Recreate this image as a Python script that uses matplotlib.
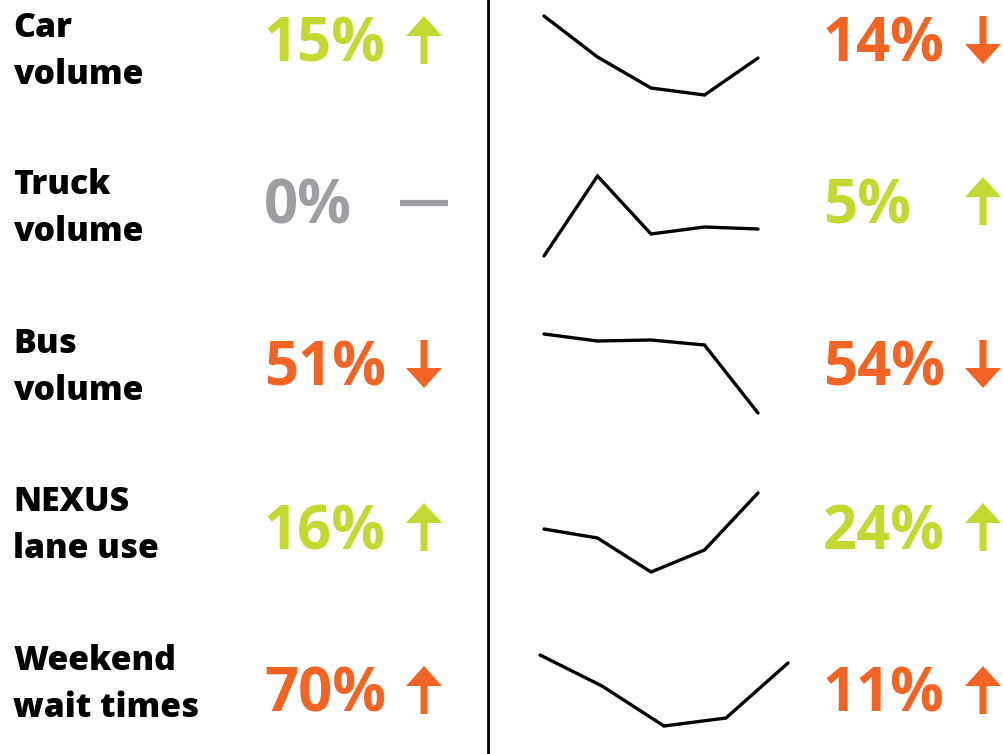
import matplotlib.pyplot as plt

# rows of the traffic summary
labels = ["Car\nvolume", "Truck\nvolume", "Bus\nvolume", "NEXUS\nlane use", "Weekend\nwait times"]

left_pct = [15, 0, 51, 16, 70]
left_dir = ["up", "flat", "down", "up", "up"]
left_good = ["good", "neutral", "bad", "good", "bad"]

right_pct = [14, 5, 54, 24, 11]
right_dir = ["down", "up", "down", "up", "up"]
right_good = ["bad", "good", "bad", "good", "bad"]

# sparkline series (five periods each)
car_trend = [84, 43, 12, 5, 42]
truck_trend = [4, 84, 26, 33, 31]
bus_trend = [86, 79, 80, 75, 7]
nexus_trend = [51, 42, 8, 30, 87]
weekend_trend = [85, 54, 14, 22, 77]
trends = [car_trend, truck_trend, bus_trend, nexus_trend, weekend_trend]

colors = {"good": "#c3d931", "bad": "#f26424", "neutral": "#9d9ea1"}

W, H = 1004, 754
fig = plt.figure(figsize=(W / 100, H / 100), dpi=100)
ax = fig.add_axes([0, 0, 1, 1])
ax.set_xlim(0, W)
ax.set_ylim(H, 0)
ax.axis("off")

label_font = dict(family="Open Sans", weight="heavy", fontsize=24.3, color="black")
pct_font = dict(family="Open Sans", weight="bold", fontsize=43)

label_base = [37, 194, 353, 511, 670]
pct_base = [62, 223, 386, 549, 712]
spark_bottom = [100, 260, 420, 580, 740]


def draw_arrow(x, base, kind, color):
    top, bottom = base - 46, base + 2
    if kind == "flat":
        ax.plot([x - 24, x + 24], [base - 20, base - 20], color=color, lw=4.5,
                solid_capstyle="butt")
        return
    if kind == "up":
        ax.arrow(x, bottom, 0, top - bottom, width=7, head_width=36,
                 head_length=20, length_includes_head=True, color=color, lw=0)
    else:
        ax.arrow(x, top, 0, bottom - top, width=7, head_width=36,
                 head_length=20, length_includes_head=True, color=color, lw=0)


for i, lab in enumerate(labels):
    for j, line in enumerate(lab.split("\n")):
        ax.text(13, label_base[i] + 47 * j, line, va="baseline", ha="left", **label_font)

    c = colors[left_good[i]]
    ax.text(264, pct_base[i], f"{left_pct[i]}%", va="baseline", ha="left", color=c, **pct_font)
    draw_arrow(424, pct_base[i], left_dir[i], c)

    c = colors[right_good[i]]
    ax.text(823, pct_base[i], f"{right_pct[i]}%", va="baseline", ha="left", color=c, **pct_font)
    draw_arrow(983, pct_base[i], right_dir[i], c)

    # sparkline in its own small axes
    x0, x1 = (540, 788) if i == 4 else (544, 758)
    sax = fig.add_axes([x0 / W, (H - spark_bottom[i]) / H, (x1 - x0) / W, 100 / H])
    sax.plot(range(len(trends[i])), trends[i], color="black", lw=2.4,
             solid_joinstyle="miter", solid_capstyle="round", clip_on=False)
    sax.set_xlim(0, len(trends[i]) - 1)
    sax.set_ylim(0, 100)
    sax.axis("off")
    sax.patch.set_alpha(0)

# column divider
ax.plot([488, 488], [0, H], color="black", lw=2)

fig.savefig("out.png", dpi=100)
